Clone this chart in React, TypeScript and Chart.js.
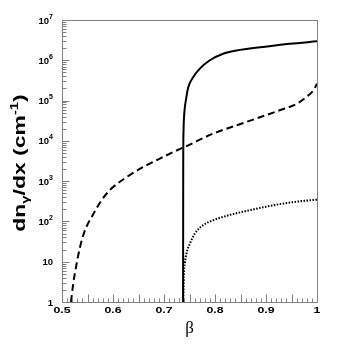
import React, { useEffect, useRef } from "react";
import { Chart, registerables } from "chart.js";

Chart.register(...registerables);

// Solid curve (β, dn/dx)
const solidBeta = [0.7374, 0.7377, 0.7382, 0.7389, 0.741, 0.7428, 0.7474, 0.7571, 0.7703, 0.7899, 0.8159, 0.8421, 0.8942, 0.9465, 1.0];
const solidValues = [1, 3000, 16000, 32000, 70000, 100000, 210000, 380000, 620000, 1000000, 1450000, 1740000, 2140000, 2570000, 2950000];

// Dashed curve
const dashedBeta = [0.5176, 0.5221, 0.5288, 0.5353, 0.545, 0.5582, 0.5778, 0.594, 0.6267, 0.6592, 0.6919, 0.718, 0.7474, 0.7963, 0.8617, 0.9269, 0.9601, 0.9792, 0.9926, 1.0];
const dashedValues = [1, 2.9, 9.1, 23, 60, 129, 339, 603, 1260, 2240, 3630, 5250, 7760, 15100, 29500, 57500, 83000, 123000, 178000, 260000];

// Dotted curve
const dottedBeta = [0.7378, 0.7389, 0.7409, 0.7442, 0.7507, 0.7605, 0.7767, 0.7963, 0.829, 0.8617, 0.8942, 0.9269, 0.9601, 1.0];
const dottedValues = [1, 4.3, 9.1, 16.2, 28, 50, 81, 107, 145, 182, 224, 269, 309, 347];

// Axis ticks
const xTickValues = [0.5, 0.6, 0.7, 0.8, 0.9, 1];
const xTickLabels = ["0.5", "0.6", "0.7", "0.8", "0.9", "1"];
const yDecades = [0, 1, 2, 3, 4, 5, 6, 7];

const SANS = '"Liberation Sans", Arial, Helvetica, sans-serif';
const SERIF = '"Liberation Serif", "Times New Roman", serif';
const AXIS_GRAY = "#808080";

function toPoints(xs: number[], ys: number[]) {
  return xs.map((x, i) => ({ x, y: ys[i] }));
}

export default function App() {
  const ref = useRef<HTMLCanvasElement>(null);

  useEffect(() => {
    document.body.style.margin = "0";
    const canvas = ref.current;
    if (!canvas) return;

    const axesPlugin = {
      id: "tecAxes",
      afterDraw(chart: any) {
        const ctx: CanvasRenderingContext2D = chart.ctx;
        const area = chart.chartArea;
        const xs = chart.scales.x;
        const ys = chart.scales.y;
        const L = Math.round(area.left) + 0.5;
        const R = Math.round(area.right) + 0.5;
        const T = Math.round(area.top) + 0.5;
        const B = Math.round(area.bottom) + 0.5;

        ctx.save();
        // frame
        ctx.strokeStyle = AXIS_GRAY;
        ctx.lineWidth = 1;
        ctx.strokeRect(L, T, R - L, B - T);

        // x ticks (every 0.01, longer every 0.05)
        ctx.beginPath();
        for (let i = 50; i <= 100; i++) {
          const px = Math.round(xs.getPixelForValue(i / 100)) + 0.5;
          const len = i % 5 === 0 ? 8 : 4;
          ctx.moveTo(px, B);
          ctx.lineTo(px, B - len);
        }
        // y ticks (decades long, 2..9 short)
        for (const d of yDecades) {
          const py = Math.round(ys.getPixelForValue(Math.pow(10, d))) + 0.5;
          ctx.moveTo(L, py);
          ctx.lineTo(L + 7, py);
          if (d < 7) {
            for (let k = 2; k <= 9; k++) {
              const pm = Math.round(ys.getPixelForValue(k * Math.pow(10, d))) + 0.5;
              ctx.moveTo(L, pm);
              ctx.lineTo(L + 4, pm);
            }
          }
        }
        ctx.stroke();

        // x tick labels
        ctx.fillStyle = "#000";
        ctx.font = `bold 9.5px ${SANS}`;
        ctx.textBaseline = "alphabetic";
        ctx.textAlign = "center";
        xTickValues.forEach((v, i) => {
          const px = xs.getPixelForValue(v);
          ctx.save();
          ctx.translate(px, 313);
          ctx.scale(1.3, 1);
          ctx.fillText(xTickLabels[i], 0, 0);
          ctx.restore();
        });

        // y tick labels
        const rightEdge = 53;
        ctx.textAlign = "left";
        for (const d of yDecades) {
          const py = ys.getPixelForValue(Math.pow(10, d));
          const base = d === 0 ? "1" : "10";
          const sup = d >= 2 ? String(d) : "";
          ctx.font = `bold 7px ${SANS}`;
          const ws = sup ? ctx.measureText(sup).width : 0;
          ctx.font = `bold 9.5px ${SANS}`;
          const wb = ctx.measureText(base).width;
          const baseX = rightEdge - ws - wb;
          ctx.fillText(base, baseX, py + 3.5);
          if (sup) {
            ctx.font = `bold 7px ${SANS}`;
            ctx.fillText(sup, rightEdge - ws, py - 1.5);
          }
        }

        // x axis title
        ctx.font = `17px ${SERIF}`;
        ctx.textAlign = "center";
        ctx.fillText("β", (area.left + area.right) / 2, 333);

        // y axis title with subscript and superscript
        const big = `bold 17px ${SANS}`;
        const small = `bold 11px ${SANS}`;
        const segs: [string, string, number][] = [
          ["dn", big, 0],
          ["γ", small, 4],
          ["/dx (cm", big, 0],
          ["-1", small, -7],
          [")", big, 0],
        ];
        let total = 0;
        const widths = segs.map(([t, f]) => {
          ctx.font = f;
          const w = ctx.measureText(t).width;
          total += w;
          return w;
        });
        ctx.save();
        ctx.translate(25, (area.top + area.bottom) / 2 + 2);
        ctx.rotate(-Math.PI / 2);
        ctx.scale(1.35, 1);
        ctx.textAlign = "left";
        let cx = -total / 2;
        segs.forEach(([t, f, dy], i) => {
          ctx.font = f;
          ctx.fillText(t, cx, dy);
          cx += widths[i];
        });
        ctx.restore();

        ctx.restore();
      },
    };

    const chart = new Chart(canvas, {
      type: "line",
      data: {
        datasets: [
          {
            label: "solid",
            data: toPoints(solidBeta, solidValues),
            borderColor: "#000",
            borderWidth: 2,
            pointRadius: 0,
            cubicInterpolationMode: "monotone",
            fill: false,
          },
          {
            label: "dashed",
            data: toPoints(dashedBeta, dashedValues),
            borderColor: "#000",
            borderWidth: 2,
            borderDash: [7, 4],
            pointRadius: 0,
            cubicInterpolationMode: "monotone",
            fill: false,
          },
          {
            label: "dotted",
            data: toPoints(dottedBeta, dottedValues),
            borderColor: "#000",
            borderWidth: 2,
            borderDash: [1.5, 1.5],
            pointRadius: 0,
            cubicInterpolationMode: "monotone",
            fill: false,
          },
        ],
      },
      options: {
        responsive: false,
        animation: false,
        devicePixelRatio: 1,
        layout: { padding: { top: 20, right: 40, left: 0, bottom: 0 } },
        plugins: {
          legend: { display: false },
          tooltip: { enabled: false },
          title: { display: false },
        },
        scales: {
          x: {
            type: "linear",
            min: 0.5,
            max: 1,
            grid: { display: false },
            ticks: { display: false },
            border: { display: false },
            afterFit: (s: any) => {
              s.height = 44;
            },
          },
          y: {
            type: "logarithmic",
            min: 1,
            max: 1e7,
            grid: { display: false },
            ticks: { display: false },
            border: { display: false },
            afterFit: (s: any) => {
              s.width = 62;
            },
          },
        },
      },
      plugins: [axesPlugin],
    } as any);

    return () => chart.destroy();
  }, []);

  return <canvas ref={ref} width={357} height={346} style={{ display: "block" }} />;
}
